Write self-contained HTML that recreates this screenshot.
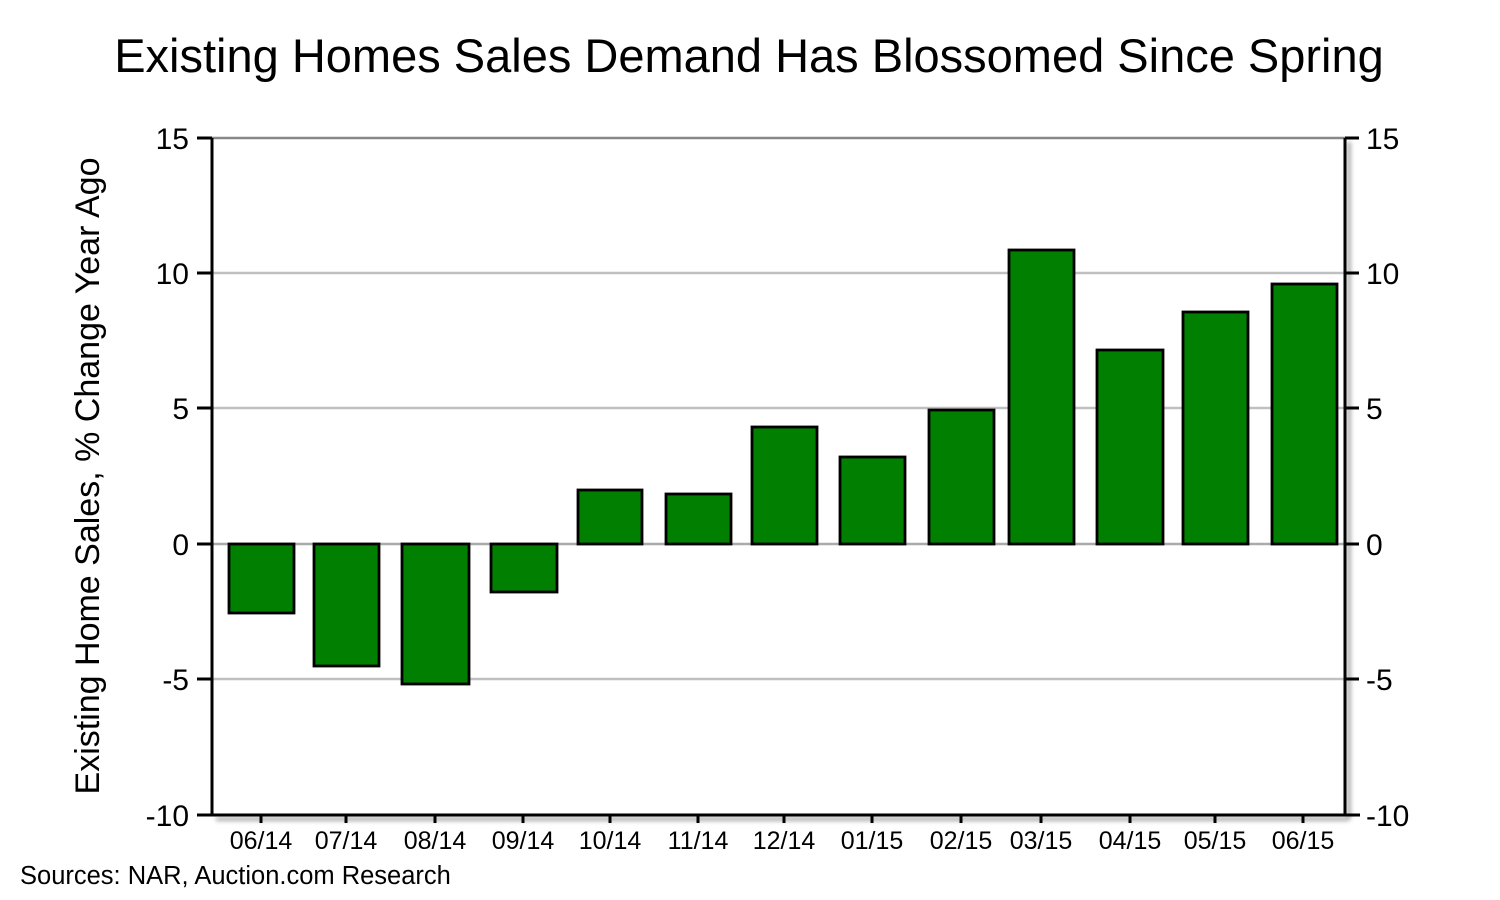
<!DOCTYPE html>
<html><head><style>body{margin:0;background:#fff}svg{display:block}</style></head><body>
<svg width="1500" height="900" xmlns="http://www.w3.org/2000/svg" font-family="Liberation Sans, Arial, sans-serif">
<defs><filter id="sh" x="-5%" y="-5%" width="110%" height="110%"><feGaussianBlur stdDeviation="2"/></filter></defs>
<text x="749" y="72" font-size="47" text-anchor="middle">Existing Homes Sales Demand Has Blossomed Since Spring</text>
<g stroke="#c0c0c0" stroke-width="2.5">
<line x1="212" y1="273" x2="1345" y2="273"/><line x1="212" y1="408" x2="1345" y2="408"/><line x1="212" y1="679" x2="1345" y2="679"/>
</g>
<line x1="212" y1="138" x2="1345" y2="138" stroke="#888" stroke-width="2.5"/>
<line x1="212" y1="544" x2="1345" y2="544" stroke="#aaa" stroke-width="2.5"/>
<g fill="#007f00" stroke="#000" stroke-width="2.8">
<rect x="229" y="544" width="65" height="69"/>
<rect x="314" y="544" width="65" height="122"/>
<rect x="402" y="544" width="67" height="140"/>
<rect x="491" y="544" width="66" height="48"/>
<rect x="578" y="490" width="64" height="54"/>
<rect x="666" y="494" width="65" height="50"/>
<rect x="752" y="427" width="65" height="117"/>
<rect x="840" y="457" width="65" height="87"/>
<rect x="929" y="410" width="65" height="134"/>
<rect x="1009" y="250" width="65" height="294"/>
<rect x="1097" y="350" width="66" height="194"/>
<rect x="1183" y="312" width="65" height="232"/>
<rect x="1272" y="284" width="65" height="260"/>
</g>
<g stroke="#999" stroke-width="4" filter="url(#sh)" opacity="0.8"><line x1="1349" y1="142" x2="1349" y2="819"/><line x1="216" y1="819" x2="1349" y2="819"/></g>
<g stroke="#000" stroke-width="3" fill="none">
<line x1="212" y1="138" x2="212" y2="815"/><line x1="1345" y1="138" x2="1345" y2="815"/><line x1="197" y1="815" x2="1360" y2="815"/>
<path d="M197 138H212M197 273H212M197 408H212M197 544H212M197 679H212M1345 138H1359M1345 273H1359M1345 408H1359M1345 544H1359M1345 679H1359"/>
<path d="M261 815v8M346 815v8M435 815v8M523 815v8M610 815v8M698 815v8M784 815v8M872 815v8M961 815v8M1041 815v8M1130 815v8M1215 815v8M1303 815v8"/>
</g>
<g font-size="30" text-anchor="end">
<text x="189" y="149">15</text><text x="189" y="284">10</text><text x="189" y="419">5</text><text x="189" y="555">0</text><text x="189" y="690">-5</text><text x="189" y="826">-10</text>
</g>
<g font-size="30">
<text x="1366" y="149">15</text><text x="1366" y="284">10</text><text x="1366" y="419">5</text><text x="1366" y="555">0</text><text x="1366" y="690">-5</text><text x="1366" y="826">-10</text>
</g>
<g font-size="25" text-anchor="middle">
<text x="261" y="849">06/14</text><text x="346" y="849">07/14</text><text x="435" y="849">08/14</text><text x="523" y="849">09/14</text><text x="610" y="849">10/14</text><text x="698" y="849">11/14</text><text x="784" y="849">12/14</text><text x="872" y="849">01/15</text><text x="961" y="849">02/15</text><text x="1041" y="849">03/15</text><text x="1130" y="849">04/15</text><text x="1215" y="849">05/15</text><text x="1303" y="849">06/15</text>
</g>
<text transform="translate(99,476) rotate(-90)" font-size="34" text-anchor="middle">Existing Home Sales, % Change Year Ago</text>
<text x="20" y="884" font-size="25.5">Sources: NAR, Auction.com Research</text>
</svg>
</body></html>
